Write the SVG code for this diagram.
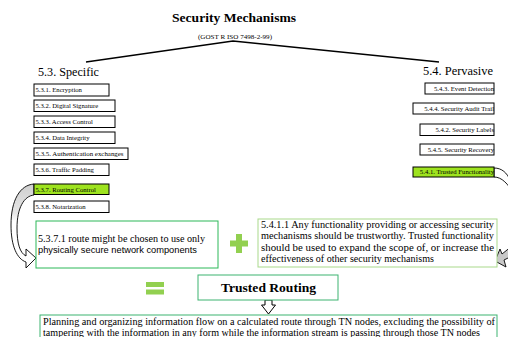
<svg xmlns="http://www.w3.org/2000/svg" width="508" height="337" viewBox="0 0 508 337">
<style>
text{font-family:"Liberation Serif","Times New Roman",serif;fill:#000}
.sm{font-size:6.7px}
.bx{fill:#fff;stroke:#000;stroke-width:1}
.hl{fill:#9ee31f;stroke:#000;stroke-width:1}
.body{font-size:10px}
.hd{font-size:12.3px}
</style>
<defs>
<linearGradient id="gr" x1="0" y1="0" x2="0" y2="1">
<stop offset="0" stop-color="#cfcfcf"/>
<stop offset="0.35" stop-color="#e6e6e6"/>
<stop offset="0.45" stop-color="#fff"/>
<stop offset="1" stop-color="#fff"/>
</linearGradient>
</defs>
<rect width="508" height="337" fill="#fff"/>

<g id="title">
<text x="234" y="22" text-anchor="middle" font-size="13.5" font-weight="bold" textLength="124" lengthAdjust="spacingAndGlyphs">Security Mechanisms</text>
<text x="235" y="39" text-anchor="middle" font-size="7" textLength="74" lengthAdjust="spacingAndGlyphs">(GOST R ISO 7498-2-99)</text>
</g>

<g id="connectors" fill="none" stroke="#000">
<polyline points="86,62 233,41 439,62" stroke-width="1.3"/>
<path d="M34,184 C20,185 11,200 11,225 C11,246 17,259 26,262 L26,268 L36,258 L26,249 L26,256 C20,253 17,244 17,228 C17,208 24,196 34,195 Z" fill="url(#gr)" stroke-width="0.9"/>
<path d="M494,168 C502,168 507,173 510,180 L514,194 C508,184 502,177 494,177 Z" fill="#fff" stroke-width="0.9"/>
<polygon points="495,261 500,249 502,254 512,246 514,255 504,260 506,267" fill="#c8c8c8" stroke-width="0.9"/>
<path d="M265,300 L272,300 L272,305 L275.5,305 L268.5,314 L261.5,305 L265,305 Z" fill="#fff" stroke-width="1"/>
</g>

<g id="specific">
<text class="hd" x="38" y="76" textLength="61" lengthAdjust="spacingAndGlyphs">5.3. Specific</text>
</g>
<g id="pervasive">
<text class="hd" x="423" y="75" textLength="70" lengthAdjust="spacingAndGlyphs">5.4. Pervasive</text>
</g>

<g id="n531"><rect class="bx" x="34" y="84" width="75" height="12"/><text class="sm" x="35.5" y="92.3">5.3.1. Encryption</text></g>
<g id="n532"><rect class="bx" x="34" y="100" width="81" height="11.5"/><text class="sm" x="35.5" y="108">5.3.2. Digital Signature</text></g>
<g id="n533"><rect class="bx" x="34" y="116" width="81" height="11.5"/><text class="sm" x="35.5" y="124">5.3.3. Access Control</text></g>
<g id="n534"><rect class="bx" x="34" y="132" width="81" height="11.5"/><text class="sm" x="35.5" y="140">5.3.4. Data Integrity</text></g>
<g id="n535"><rect class="bx" x="34" y="148" width="94" height="11.5"/><text class="sm" x="35.5" y="156" textLength="88" lengthAdjust="spacingAndGlyphs">5.3.5. Authentication exchanges</text></g>
<g id="n536"><rect class="bx" x="34" y="164" width="75" height="11.5"/><text class="sm" x="35.5" y="172">5.3.6. Traffic Padding</text></g>
<g id="n537"><rect class="hl" x="34" y="184" width="75" height="10.5"/><text class="sm" x="35.5" y="191.5">5.3.7. Routing Control</text></g>
<g id="n538"><rect class="bx" x="34" y="201" width="75" height="11.5"/><text class="sm" x="35.5" y="209">5.3.8. Notarization</text></g>

<g id="n543"><rect class="bx" x="425" y="83" width="69" height="11"/><text class="sm" x="494" y="90.8" text-anchor="end">5.4.3. Event Detection</text></g>
<g id="n544"><rect class="bx" x="413" y="103" width="81" height="11"/><text class="sm" x="494" y="110.8" text-anchor="end">5.4.4. Security Audit Trail</text></g>
<g id="n542"><rect class="bx" x="420" y="124" width="74" height="11.5"/><text class="sm" x="494" y="132" text-anchor="end">5.4.2. Security Labels</text></g>
<g id="n545"><rect class="bx" x="420" y="144" width="74" height="11"/><text class="sm" x="494" y="151.8" text-anchor="end">5.4.5. Security Recovery</text></g>
<g id="n541"><rect class="hl" x="413" y="167" width="81" height="10"/><text class="sm" x="494" y="174.2" text-anchor="end">5.4.1. Trusted Functionality</text></g>

<g id="n5371">
<rect x="36" y="221" width="182" height="47" fill="#fff" stroke="#2db858" stroke-width="1"/>
<text class="body" x="38" y="242" textLength="167" lengthAdjust="spacingAndGlyphs">5.3.7.1 route might be chosen to use only</text>
<text x="38" y="253" font-size="9.3" textLength="159" lengthAdjust="spacingAndGlyphs" style="font-family:'Liberation Sans',Arial,sans-serif">physically secure network components</text>
</g>

<g id="plus" fill="#92d050">
<rect x="236" y="234" width="6" height="19"/>
<rect x="230" y="240.5" width="18" height="6"/>
</g>

<g id="n5411">
<rect x="258" y="219" width="239" height="48" fill="#fff" stroke="#a9d98b" stroke-width="1"/>
<text class="body" x="261" y="227.5" textLength="233" lengthAdjust="spacingAndGlyphs">5.4.1.1 Any functionality providing or accessing security</text>
<text class="body" x="261" y="239" textLength="233" lengthAdjust="spacingAndGlyphs">mechanisms should be trustworthy. Trusted functionality</text>
<text class="body" x="261" y="250.5" textLength="233" lengthAdjust="spacingAndGlyphs">should be used to expand the scope of, or increase the</text>
<text class="body" x="261" y="262" textLength="173" lengthAdjust="spacingAndGlyphs">effectiveness of other security mechanisms</text>
</g>

<g id="equals" fill="#92d050">
<rect x="146" y="282" width="18" height="5"/>
<rect x="146" y="289.5" width="18" height="5"/>
</g>

<g id="trusted-routing">
<rect x="198" y="275" width="140" height="25" fill="#fff" stroke="#3cb371" stroke-width="1"/>
<text x="268.5" y="292" text-anchor="middle" font-size="13.5" font-weight="bold" textLength="95" lengthAdjust="spacingAndGlyphs">Trusted Routing</text>
</g>

<g id="definition">
<rect x="40" y="315" width="457" height="30" fill="#fff" stroke="#3cb371" stroke-width="1"/>
<text class="body" x="43" y="324.5" textLength="452" lengthAdjust="spacingAndGlyphs">Planning and organizing information flow on a calculated route through TN nodes, excluding the possibility of</text>
<text class="body" x="43" y="335.5" textLength="437" lengthAdjust="spacingAndGlyphs">tampering with the information in any form while the information stream is passing through those TN nodes</text>
</g>
</svg>
